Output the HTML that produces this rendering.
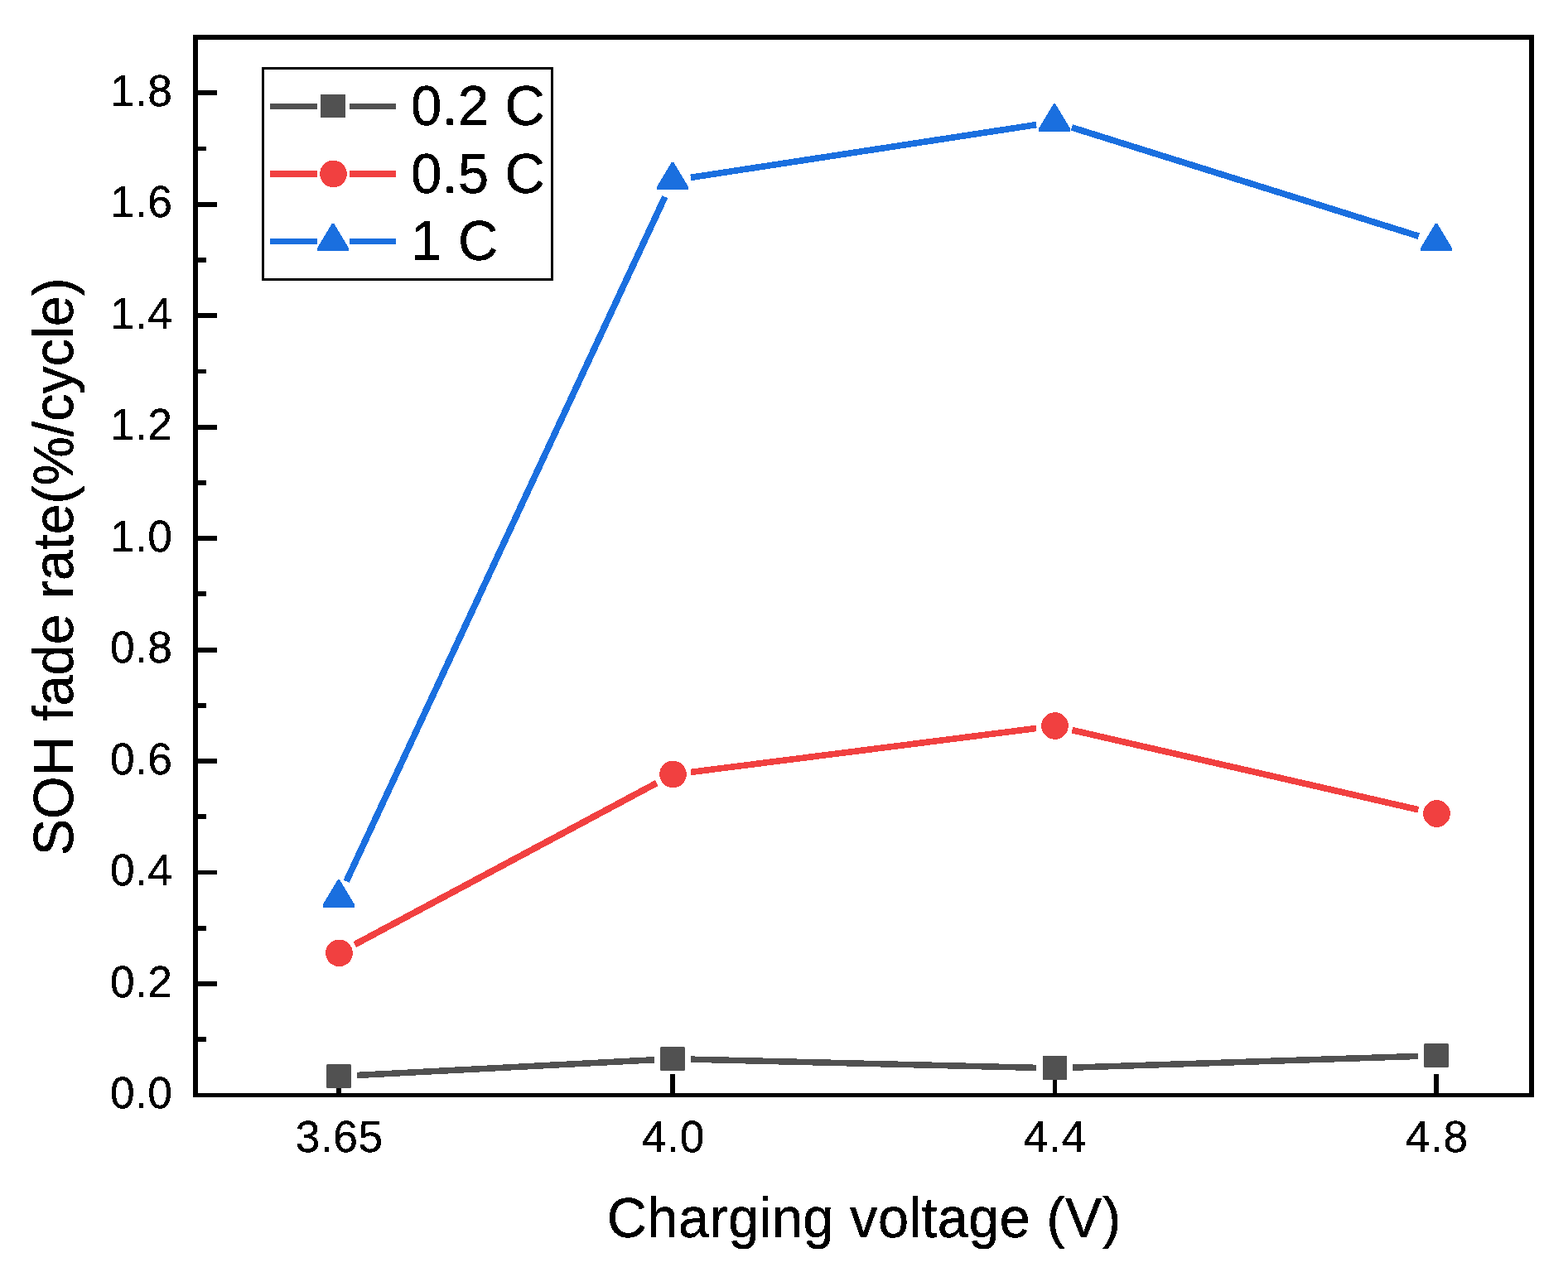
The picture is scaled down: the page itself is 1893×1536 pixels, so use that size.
<!DOCTYPE html>
<html lang="en"><head><meta charset="utf-8"><title>SOH fade rate vs charging voltage</title>
<style>html,body{margin:0;padding:0;background:#fff;}body{width:1893px;height:1536px;overflow:hidden;}svg{display:block;}text{font-family:"Liberation Sans",Arial,Helvetica,sans-serif;fill:#000;}</style>
</head><body>
<svg width="1893" height="1536" viewBox="0 0 1893 1536" role="img" aria-label="SOH fade rate versus charging voltage">
<defs><filter id="bin" x="-5%" y="-5%" width="110%" height="110%" color-interpolation-filters="sRGB"><feComponentTransfer><feFuncA type="discrete" tableValues="0 1"/></feComponentTransfer></filter></defs>
<rect x="0" y="0" width="1893" height="1536" fill="#fff"/>
<g fill="#000" shape-rendering="crispEdges">
<rect x="236" y="1252" width="13" height="6" fill="#000"/>
<rect x="236" y="1185" width="26" height="6" fill="#000"/>
<rect x="236" y="1118" width="13" height="6" fill="#000"/>
<rect x="236" y="1051" width="26" height="5" fill="#000"/>
<rect x="236" y="983" width="13" height="6" fill="#000"/>
<rect x="236" y="916" width="26" height="6" fill="#000"/>
<rect x="236" y="849" width="13" height="6" fill="#000"/>
<rect x="236" y="782" width="26" height="6" fill="#000"/>
<rect x="236" y="714" width="13" height="6" fill="#000"/>
<rect x="236" y="647" width="26" height="6" fill="#000"/>
<rect x="236" y="580" width="13" height="6" fill="#000"/>
<rect x="236" y="513" width="26" height="6" fill="#000"/>
<rect x="236" y="446" width="13" height="5" fill="#000"/>
<rect x="236" y="378" width="26" height="6" fill="#000"/>
<rect x="236" y="311" width="13" height="6" fill="#000"/>
<rect x="236" y="244" width="26" height="6" fill="#000"/>
<rect x="236" y="177" width="13" height="5" fill="#000"/>
<rect x="236" y="109" width="26" height="6" fill="#000"/>
<rect x="406" y="1297" width="6" height="25.5" fill="#000"/>
<rect x="809" y="1297" width="6" height="25.5" fill="#000"/>
<rect x="1271" y="1297" width="5" height="25.5" fill="#000"/>
<rect x="1731" y="1297" width="6" height="25.5" fill="#000"/>
</g>
<g stroke="#515151" fill="none" shape-rendering="crispEdges">
<line x1="430.79" y1="1298.46" x2="790.10" y2="1279.74" stroke-width="7.54"/>
<line x1="834.06" y1="1279.14" x2="1250.94" y2="1289.36" stroke-width="7.52"/>
<line x1="1294.92" y1="1289.17" x2="1711.80" y2="1275.43" stroke-width="7.53"/>
</g>
<rect x="394" y="1284.9" width="30" height="29" fill="#515151" rx="1.5" ry="1.5"/>
<rect x="797" y="1263.9" width="30" height="29" fill="#515151" rx="1.5" ry="1.5"/>
<rect x="1259" y="1275" width="29" height="29" fill="#515151"/>
<rect x="1719" y="1260" width="30" height="29" fill="#515151" rx="1.5" ry="1.5"/>
<g stroke="#F14040" fill="none" shape-rendering="crispEdges">
<line x1="428.22" y1="1140.62" x2="792.67" y2="945.58" stroke-width="7.83"/>
<line x1="833.90" y1="932.43" x2="1251.10" y2="879.47" stroke-width="7.60"/>
<line x1="1294.37" y1="881.63" x2="1712.35" y2="977.77" stroke-width="7.67"/>
</g>
<circle cx="409.50" cy="1150.80" r="16.3" fill="#F14040" shape-rendering="crispEdges"/>
<circle cx="812.50" cy="935.00" r="16.3" fill="#F14040" shape-rendering="crispEdges"/>
<circle cx="1273.50" cy="876.50" r="16.3" fill="#F14040" shape-rendering="crispEdges"/>
<circle cx="1734.50" cy="982.50" r="16.3" fill="#F14040" shape-rendering="crispEdges"/>
<g stroke="#1A6FDF" fill="none" shape-rendering="crispEdges">
<line x1="418.10" y1="1064.25" x2="802.79" y2="237.65" stroke-width="7.81"/>
<line x1="833.82" y1="214.38" x2="1251.18" y2="150.62" stroke-width="7.62"/>
<line x1="1293.92" y1="153.88" x2="1712.79" y2="285.22" stroke-width="7.73"/>
</g>
<polygon points="408.00,1062.00 410.00,1062.00 428.00,1092.00 428.00,1095.60 390.00,1095.60 390.00,1092.00" fill="#1A6FDF" shape-rendering="crispEdges"/>
<polygon points="811.00,195.50 813.00,195.50 831.00,225.50 831.00,229.10 793.00,229.10 793.00,225.50" fill="#1A6FDF" shape-rendering="crispEdges"/>
<polygon points="1272.00,125.10 1274.00,125.10 1292.00,155.10 1292.00,158.70 1254.00,158.70 1254.00,155.10" fill="#1A6FDF" shape-rendering="crispEdges"/>
<polygon points="1733.00,269.60 1735.00,269.60 1753.00,299.60 1753.00,303.20 1715.00,303.20 1715.00,299.60" fill="#1A6FDF" shape-rendering="crispEdges"/>
<g fill="#000" shape-rendering="crispEdges">
<rect x="233" y="42" width="1619" height="6" fill="#000"/>
<rect x="233" y="1320" width="1619" height="5" fill="#000"/>
<rect x="233" y="42" width="6" height="1283" fill="#000"/>
<rect x="1846" y="42" width="6" height="1283" fill="#000"/>
</g>
<g filter="url(#bin)"><text transform="translate(208.30,1338.00) scale(1,1.02)" font-size="53.33px" text-anchor="end" letter-spacing="0.35" stroke="#000" stroke-width="0.3" stroke-linejoin="round">0.0</text></g>
<g filter="url(#bin)"><text transform="translate(208.30,1204.00) scale(1,1.02)" font-size="53.33px" text-anchor="end" letter-spacing="0.35" stroke="#000" stroke-width="0.3" stroke-linejoin="round">0.2</text></g>
<g filter="url(#bin)"><text transform="translate(208.30,1069.00) scale(1,1.02)" font-size="53.33px" text-anchor="end" letter-spacing="0.35" stroke="#000" stroke-width="0.3" stroke-linejoin="round">0.4</text></g>
<g filter="url(#bin)"><text transform="translate(208.30,935.00) scale(1,1.02)" font-size="53.33px" text-anchor="end" letter-spacing="0.35" stroke="#000" stroke-width="0.3" stroke-linejoin="round">0.6</text></g>
<g filter="url(#bin)"><text transform="translate(208.30,800.00) scale(1,1.02)" font-size="53.33px" text-anchor="end" letter-spacing="0.35" stroke="#000" stroke-width="0.3" stroke-linejoin="round">0.8</text></g>
<g filter="url(#bin)"><text transform="translate(208.30,666.00) scale(1,1.02)" font-size="53.33px" text-anchor="end" letter-spacing="0.35" stroke="#000" stroke-width="0.3" stroke-linejoin="round">1.0</text></g>
<g filter="url(#bin)"><text transform="translate(208.30,531.00) scale(1,1.02)" font-size="53.33px" text-anchor="end" letter-spacing="0.35" stroke="#000" stroke-width="0.3" stroke-linejoin="round">1.2</text></g>
<g filter="url(#bin)"><text transform="translate(208.30,397.00) scale(1,1.02)" font-size="53.33px" text-anchor="end" letter-spacing="0.35" stroke="#000" stroke-width="0.3" stroke-linejoin="round">1.4</text></g>
<g filter="url(#bin)"><text transform="translate(208.30,262.00) scale(1,1.02)" font-size="53.33px" text-anchor="end" letter-spacing="0.35" stroke="#000" stroke-width="0.3" stroke-linejoin="round">1.6</text></g>
<g filter="url(#bin)"><text transform="translate(208.30,128.00) scale(1,1.02)" font-size="53.33px" text-anchor="end" letter-spacing="0.35" stroke="#000" stroke-width="0.3" stroke-linejoin="round">1.8</text></g>
<g filter="url(#bin)"><text transform="translate(409.72,1391.00) scale(1,1.02)" font-size="53.33px" text-anchor="middle" letter-spacing="0.6" stroke="#000" stroke-width="0.3" stroke-linejoin="round">3.65</text></g>
<g filter="url(#bin)"><text transform="translate(812.97,1391.00) scale(1,1.02)" font-size="53.33px" text-anchor="middle" letter-spacing="0.6" stroke="#000" stroke-width="0.3" stroke-linejoin="round">4.0</text></g>
<g filter="url(#bin)"><text transform="translate(1273.83,1391.00) scale(1,1.02)" font-size="53.33px" text-anchor="middle" letter-spacing="0.6" stroke="#000" stroke-width="0.3" stroke-linejoin="round">4.4</text></g>
<g filter="url(#bin)"><text transform="translate(1734.69,1391.00) scale(1,1.02)" font-size="53.33px" text-anchor="middle" letter-spacing="0.6" stroke="#000" stroke-width="0.3" stroke-linejoin="round">4.8</text></g>
<g filter="url(#bin)"><text transform="translate(1043.20,1494.00) scale(1,1.02)" font-size="66.67px" text-anchor="middle" letter-spacing="0.48" stroke="#000" stroke-width="0.5" stroke-linejoin="round">Charging voltage (V)</text></g>
<g filter="url(#bin)"><text transform="translate(88.00,684.30) rotate(-90) scale(0.997,1.02)" font-size="66.67px" text-anchor="middle" letter-spacing="0" stroke="#000" stroke-width="0.5" stroke-linejoin="round">SOH fade rate(%/cycle)</text></g>
<g shape-rendering="crispEdges">
<rect x="317.5" y="82.5" width="349" height="255" fill="#fff" stroke="#000" stroke-width="3"/>
<rect x="326" y="125" width="57" height="7" fill="#515151"/>
<rect x="422" y="125" width="56" height="7" fill="#515151"/>
<rect x="326" y="206" width="57" height="8" fill="#F14040"/>
<rect x="422" y="206" width="56" height="8" fill="#F14040"/>
<rect x="326" y="288" width="57" height="7" fill="#1A6FDF"/>
<rect x="422" y="288" width="56" height="7" fill="#1A6FDF"/>
</g>
<rect x="387" y="114" width="30" height="28" fill="#515151"/>
<g filter="url(#bin)"><text transform="translate(496.30,151.00) scale(1,1.04)" font-size="66.67px" text-anchor="start" letter-spacing="0.5" stroke="#000" stroke-width="0.5" stroke-linejoin="round">0.2 C</text></g>
<circle cx="402.50" cy="210.00" r="16.3" fill="#F14040" shape-rendering="crispEdges"/>
<g filter="url(#bin)"><text transform="translate(496.30,233.00) scale(1,1.04)" font-size="66.67px" text-anchor="start" letter-spacing="0.5" stroke="#000" stroke-width="0.5" stroke-linejoin="round">0.5 C</text></g>
<polygon points="401.00,269.50 403.00,269.50 421.00,299.50 421.00,303.10 383.00,303.10 383.00,299.50" fill="#1A6FDF" shape-rendering="crispEdges"/>
<g filter="url(#bin)"><text transform="translate(496.30,314.00) scale(1,1.04)" font-size="66.67px" text-anchor="start" letter-spacing="0.5" stroke="#000" stroke-width="0.5" stroke-linejoin="round">1 C</text></g>
</svg>
</body></html>
